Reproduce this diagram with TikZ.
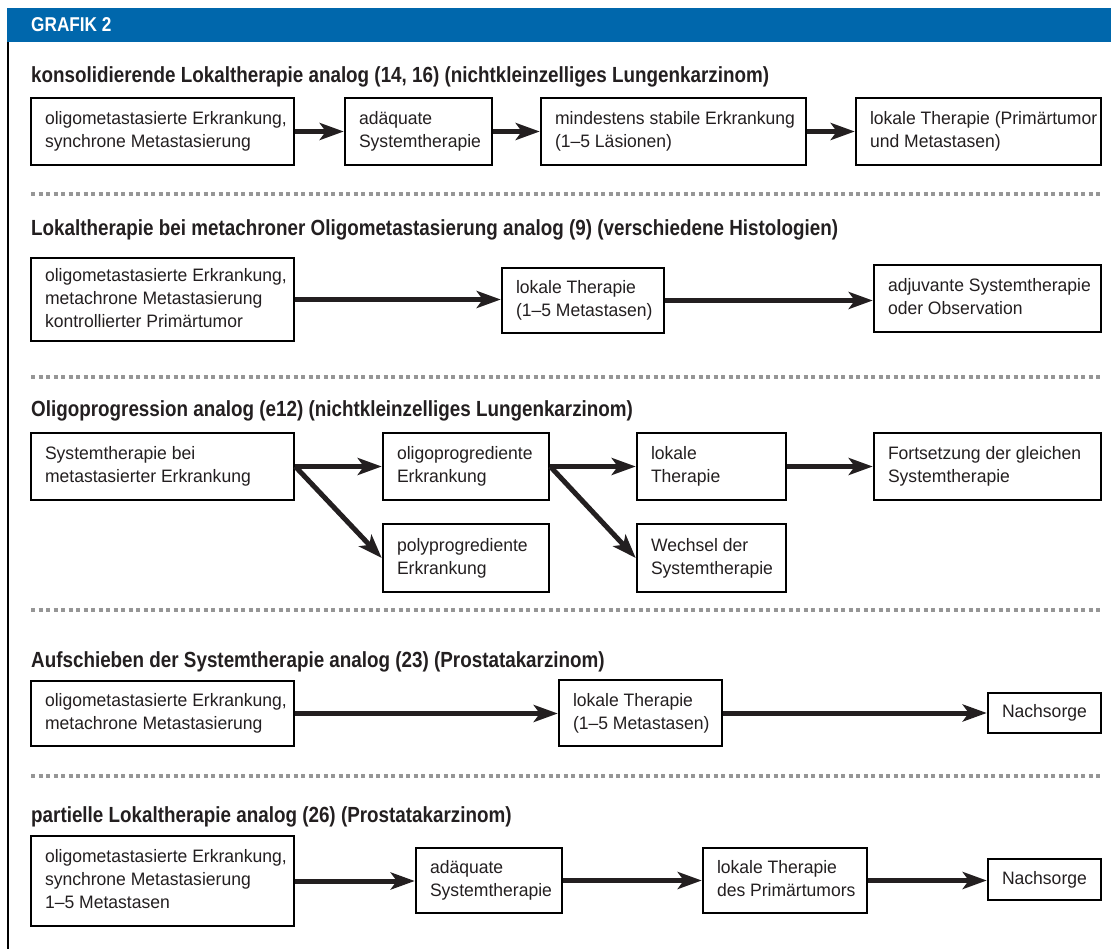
\documentclass[tikz,border=0pt]{standalone}
\usepackage{fontspec}
\setmainfont{Liberation Sans}[FakeStretch=0.86]
\newfontfamily\bodyfam{Liberation Sans}[FakeStretch=0.975]
\usetikzlibrary{arrows.meta}
\definecolor{hdrblue}{RGB}{0,103,172}
\definecolor{txt}{RGB}{35,31,32}
\definecolor{sepgray}{RGB}{150,150,150}
\newcommand\bodyfont{\bodyfam\fontsize{18}{23}\selectfont}
\newcommand\titlefont{\bfseries\fontsize{21.9}{24}\selectfont}
\newcommand\mybox[6]{%
  \pgfmathsetmacro\bxw{#4-#2-28}%
  \node[box, minimum width={#4-#2}, minimum height={#5-#3}] (#1) at ({(#2+#4)/2},{(#3+#5)/2})
    {\makebox[\bxw pt][l]{\raisebox{-1.5pt}{\begin{tabular}{@{}l@{}}#6\end{tabular}}}};}
\begin{document}
\begin{tikzpicture}[x=1pt,y=-1pt,
  box/.style={draw=black, line width=2.5pt, fill=white, inner xsep=14pt, inner ysep=0pt, text=txt, font=\bodyfont},
  arr/.style={line width=5pt, draw=txt, -{Stealth[length=24pt,width=17pt,inset=6pt]}},
  sep/.style={line width=3.5pt, sepgray, dash pattern=on 4pt off 3.5pt},
  ttl/.style={anchor=base west, inner sep=0pt, font=\titlefont, text=txt}]
\useasboundingbox (0,0) rectangle (1111,949);
% header
\fill[hdrblue] (7,8) rectangle (1111,42);
\node[anchor=base west, inner sep=0pt, text=white, font=\bfseries\fontsize{20}{22}\selectfont] (hdr) at (31,32) {GRAFIK 2};
\draw[line width=2pt, black] (8,42) -- (8,949);
% section 1
\node[ttl] (t1) at (31,83) {konsolidierende Lokaltherapie analog (14, 16) (nichtkleinzelliges Lungenkarzinom)};
\mybox{r1a}{31}{98}{294}{165}{oligometastasierte Erkrankung,\\synchrone Metastasierung}
\mybox{r1b}{345}{98}{492}{165}{adäquate\\Systemtherapie}
\mybox{r1c}{541}{98}{806}{165}{mindestens stabile Erkrankung\\(1–5 Läsionen)}
\mybox{r1d}{856}{98}{1101}{165}{lokale Therapie (Primärtumor\\und Metastasen)}
\draw[arr] (r1a.east) -- (r1b.west);
\draw[arr] (r1b.east) -- (r1c.west);
\draw[arr] (r1c.east) -- (r1d.west);
\draw[sep] (31,194) -- (1101,194);
% section 2
\node[ttl] (t2) at (31,236) {Lokaltherapie bei metachroner Oligometastasierung analog (9) (verschiedene Histologien)};
\mybox{r2a}{31}{258}{294}{341}{oligometastasierte Erkrankung,\\metachrone Metastasierung\\kontrollierter Primärtumor}
\mybox{r2b}{502}{268}{664}{333}{lokale Therapie\\(1–5 Metastasen)}
\mybox{r2c}{874}{265}{1101}{332}{adjuvante Systemtherapie\\oder Observation}
\draw[arr] (r2a.east) -- (r2a.east -| r2b.west);
\draw[arr] (r2b.east) -- (r2b.east -| r2c.west);
\draw[sep] (31,377) -- (1101,377);
% section 3
\node[ttl] (t3) at (31,417) {Oligoprogression analog (e12) (nichtkleinzelliges Lungenkarzinom)};
\mybox{r3a}{31}{433}{294}{500}{Systemtherapie bei\\metastasierter Erkrankung}
\mybox{r3b}{383}{433}{549}{500}{oligoprogrediente\\Erkrankung}
\mybox{r3c}{383}{524}{549}{592}{polyprogrediente\\Erkrankung}
\mybox{r3d}{637}{433}{786}{500}{lokale\\Therapie}
\mybox{r3e}{637}{524}{786}{592}{Wechsel der\\Systemtherapie}
\mybox{r3f}{874}{433}{1101}{500}{Fortsetzung der gleichen\\Systemtherapie}
\draw[arr] (r3a.east) -- (r3b.west);
\draw[arr] (r3a.east) -- (r3c.west);
\draw[arr] (r3b.east) -- (r3d.west);
\draw[arr] (r3b.east) -- (r3e.west);
\draw[arr] (r3d.east) -- (r3f.west);
\draw[sep] (31,610) -- (1101,610);
% section 4
\node[ttl] (t4) at (31,667) {Aufschieben der Systemtherapie analog (23) (Prostatakarzinom)};
\mybox{r4a}{31}{681}{294}{746}{oligometastasierte Erkrankung,\\metachrone Metastasierung}
\mybox{r4b}{559}{680}{722}{746}{lokale Therapie\\(1–5 Metastasen)}
\mybox{r4c}{988}{693}{1101}{733}{Nachsorge}
\draw[arr] (r4a.east) -- (r4a.east -| r4b.west);
\draw[arr] (r4b.east) -- (r4b.east -| r4c.west);
\draw[sep] (31,776) -- (1101,776);
% section 5
\node[ttl] (t5) at (31,822) {partielle Lokaltherapie analog (26) (Prostatakarzinom)};
\mybox{r5a}{31}{836}{294}{926}{oligometastasierte Erkrankung,\\synchrone Metastasierung\\1–5 Metastasen}
\mybox{r5b}{416}{848}{562}{913}{adäquate\\Systemtherapie}
\mybox{r5c}{703}{848}{867}{913}{lokale Therapie\\des Primärtumors}
\mybox{r5d}{988}{859}{1101}{900}{Nachsorge}
\draw[arr] (r5a.east) -- (r5a.east -| r5b.west);
\draw[arr] (r5b.east) -- (r5b.east -| r5c.west);
\draw[arr] (r5c.east) -- (r5c.east -| r5d.west);
\end{tikzpicture}
\end{document}
